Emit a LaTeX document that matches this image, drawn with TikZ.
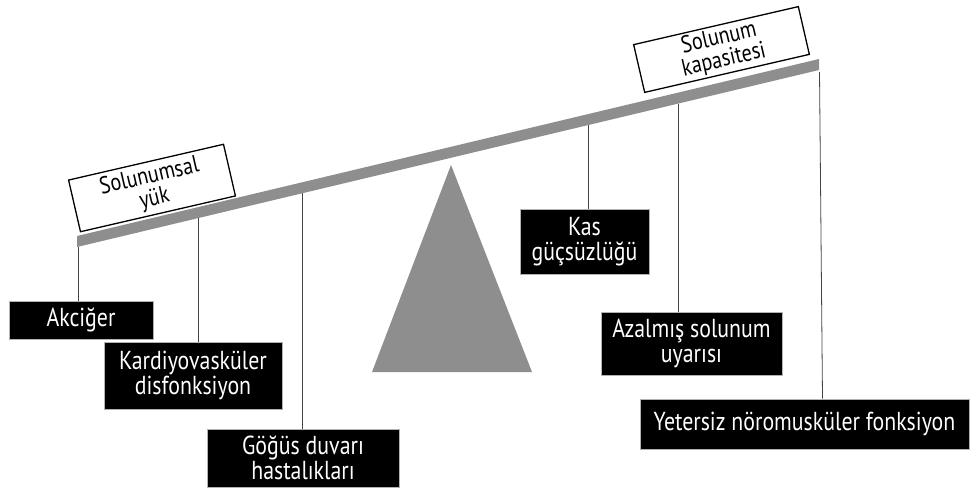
\documentclass[tikz,border=0pt]{standalone}
\usepackage{fontspec}
\setmainfont{PT Sans}[FakeStretch=0.84]
\definecolor{beamgray}{HTML}{8E8E8E}
\definecolor{linegray}{HTML}{444444}
\begin{document}
\begin{tikzpicture}[x=1pt,y=-1pt,
  darkbox/.style={fill=black,draw=gray!60,line width=0.6pt,text=white,
    align=center,inner sep=0pt,font=\fontsize{26}{25}\selectfont},
  loadbox/.style={fill=white,draw=black,line width=1.3pt,rotate=13,
    align=center,inner sep=0pt,font=\fontsize{24}{22.5}\selectfont},
  hanger/.style={draw=linegray,line width=0.8pt}]
\useasboundingbox (0,0) rectangle (971,490);

% lever beam and fulcrum
\fill[beamgray] (77,236) -- (819,59) -- (819,70) -- (77,247) -- cycle;
\fill[beamgray] (372,372) -- (451,165) -- (532,372) -- cycle;

% labels resting on the beam
\node[loadbox,minimum width=159,minimum height=53] (sy) at (152,188) {Solunumsal\\yük};
\node[loadbox,minimum width=169,minimum height=49] (sk) at (721.5,49.5) {Solunum\\kapasitesi};

% hanging factor boxes
\node[darkbox,minimum width=144,minimum height=38] (akc) at (81,320) {Akciğer};
\node[darkbox,minimum width=178,minimum height=67] (kard) at (193,375.5) {Kardiyovasküler\\disfonksiyon};
\node[darkbox,minimum width=192,minimum height=58] (gogus) at (303,458) {Göğüs duvarı\\hastalıkları};
\node[darkbox,minimum width=129,minimum height=65] (kas) at (584.5,241.5) {Kas\\güçsüzlüğü};
\node[darkbox,minimum width=181,minimum height=63] (azal) at (691.5,343.5) {Azalmış solunum\\uyarısı};
\node[darkbox,minimum width=329,minimum height=50] (yet) at (804.5,424) {Yetersiz nöromusküler fonksiyon};

% attachment points under the beam
\coordinate (b1) at (78,246.8);
\coordinate (b2) at (198,218.1);
\coordinate (b3) at (302,193.3);
\coordinate (b4) at (588,125.1);
\coordinate (b5) at (678,103.7);
\coordinate (b6) at (819.5,72);

\draw[hanger] (b1) -- (b1 |- akc.north);
\draw[hanger] (b2) -- (b2 |- kard.north);
\draw[hanger] (b3) -- (b3 |- gogus.north);
\draw[hanger] (b4) -- (b4 |- kas.north);
\draw[hanger] (b5) -- (b5 |- azal.north);
\draw[hanger] (b6) -- ([xshift=3pt]b6 |- yet.north);
\end{tikzpicture}
\end{document}
